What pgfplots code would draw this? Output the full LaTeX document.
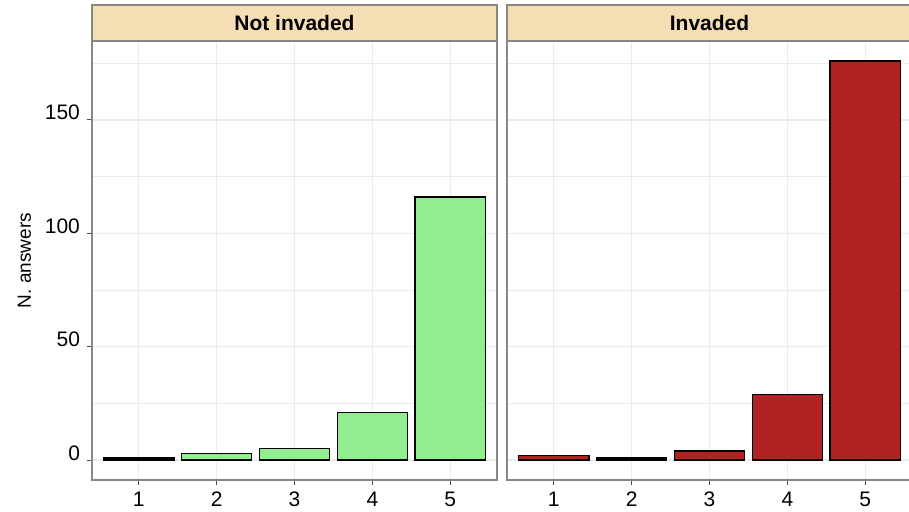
\documentclass[border=0pt]{standalone}
\usepackage{pgfplots}
\pgfplotsset{compat=1.18}
\usepackage{fontspec}
\setmainfont{Liberation Sans}
\definecolor{wheatc}{RGB}{245,222,179}
\definecolor{lgreen}{RGB}{144,238,144}
\definecolor{fbrick}{RGB}{178,34,34}
\definecolor{gridc}{RGB}{235,235,235}
\definecolor{borderc}{RGB}{135,135,135}
\pgfplotsset{panel/.style={
  width=202.5pt, height=219.5pt, scale only axis,
  xmin=0.4, xmax=5.6, ymin=-8.8, ymax=184.8,
  xtick={1,2,3,4,5}, ytick={0,50,100,150}, minor ytick={25,75,125,175},
  xmajorgrids, ymajorgrids, yminorgrids,
  major grid style={gridc, line width=0.6pt},
  minor grid style={gridc, line width=0.35pt},
  axis line style={borderc, line width=0.6pt},
  tick align=outside, major tick length=2.5pt, minor tick length=0pt,
  tick style={black!70, line width=0.5pt},
  xtick pos=bottom, ytick pos=left,
  ticklabel style={font=\fontsize{10.5}{12}\selectfont},
  /pgf/number format/assume math mode=true,
  ybar, bar width=0.9,
}}
\begin{document}
\begin{tikzpicture}
\begin{axis}[panel, name=L,
  yticklabel style={anchor=base east},
  ylabel={N. answers},
  ylabel style={font=\fontsize{9.5}{11}\selectfont},
]
\addplot[fill=lgreen, draw=black, line width=0.75pt] coordinates {(1,1) (2,3) (3,5) (4,21) (5,116)};
\end{axis}
\begin{axis}[panel, name=R, at={(207.5pt,0pt)},
  yticklabels={}, y tick style={draw=none},
]
\addplot[fill=fbrick, draw=black, line width=0.75pt] coordinates {(1,2) (2,1) (3,4) (4,29) (5,176)};
\end{axis}
\draw[borderc, fill=wheatc, line width=0.6pt] (L.north west) rectangle ([yshift=18pt]L.north east);
\node[font=\bfseries\fontsize{10.5}{12}\selectfont] at ([yshift=9pt]L.north) {Not invaded};
\draw[borderc, fill=wheatc, line width=0.6pt] (R.north west) rectangle ([yshift=18pt]R.north east);
\node[font=\bfseries\fontsize{10.5}{12}\selectfont] at ([yshift=9pt]R.north) {Invaded};
\pgfresetboundingbox
\useasboundingbox (-46pt,-15.5pt) rectangle (408.5pt,240pt);
\end{tikzpicture}
\end{document}
